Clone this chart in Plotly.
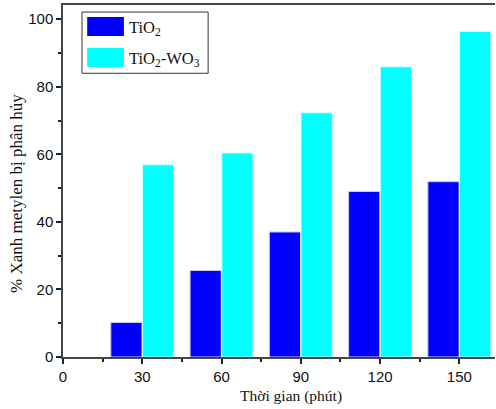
import plotly.graph_objects as go

times = [30, 60, 90, 120, 150]
tio2 = [10.2, 25.6, 37.0, 49.0, 51.9]
tio2_wo3 = [56.9, 60.4, 72.3, 85.9, 96.4]
x_ticks = [0, 30, 60, 90, 120, 150]
y_ticks = [0, 20, 40, 60, 80, 100]

BLUE = "#0000FF"
CYAN = "#00FFFF"
SERIF = "Liberation Serif, Times New Roman, serif"
SANS = "Liberation Sans, Arial, sans-serif"

fig = go.Figure()
fig.add_trace(go.Bar(x=times, y=tio2, width=11.8, offset=-11.9, name="TiO2",
                     marker=dict(color=BLUE, line=dict(color="#C8C8F0", width=1)),
                     showlegend=False))
fig.add_trace(go.Bar(x=times, y=tio2_wo3, width=11.8, offset=0.1, name="TiO2-WO3",
                     marker=dict(color=CYAN, line=dict(color="#D0FFFF", width=1)),
                     showlegend=False))

axis_common = dict(showgrid=False, zeroline=False, showline=True, linecolor="#444",
                   linewidth=1.5, ticks="outside", ticklen=5, tickwidth=1.5,
                   tickcolor="#222",
                   tickfont=dict(family=SANS, size=15, color="#111"))

fig.update_xaxes(range=[0, 163.5], tickvals=x_ticks, mirror=True, **axis_common,
                 minor=dict(ticks="outside", ticklen=3, tickwidth=1.5, tickcolor="#222", dtick=15, tick0=0))
fig.update_yaxes(range=[0, 104.2], tickvals=y_ticks, mirror=False, **axis_common,
                 minor=dict(ticks="outside", ticklen=3, tickwidth=1.5, tickcolor="#222", dtick=10, tick0=0))

# axis titles
fig.add_annotation(xref="paper", yref="paper", x=0.528, y=-0.111, xanchor="center", yanchor="middle",
                   text="Thời gian (phút)", showarrow=False,
                   font=dict(family=SERIF, size=15.5, color="#111"))
fig.add_annotation(xref="paper", yref="paper", x=-0.1065, y=0.466, xanchor="center", yanchor="middle",
                   text="% Xanh metylen bị phân hủy", showarrow=False, textangle=-90,
                   font=dict(family=SERIF, size=17, color="#111"))

# custom legend
fig.add_shape(type="rect", xref="paper", yref="paper", x0=0.044, x1=0.336, y0=0.806, y1=0.98,
              line=dict(color="#333", width=1), fillcolor="white")
fig.add_shape(type="rect", xref="paper", yref="paper", x0=0.056, x1=0.141, y0=0.912, y1=0.966,
              line=dict(width=0), fillcolor=BLUE)
fig.add_shape(type="rect", xref="paper", yref="paper", x0=0.056, x1=0.141, y0=0.824, y1=0.878,
              line=dict(width=0), fillcolor=CYAN)
fig.add_annotation(xref="paper", yref="paper", x=0.148, y=0.935, xanchor="left", yanchor="middle",
                   text="TiO<sub>2</sub>", showarrow=False,
                   font=dict(family=SERIF, size=16.5, color="#111"))
fig.add_annotation(xref="paper", yref="paper", x=0.148, y=0.848, xanchor="left", yanchor="middle",
                   text="TiO<sub>2</sub>-WO<sub>3</sub>", showarrow=False,
                   font=dict(family=SERIF, size=16.5, color="#111"))

fig.update_layout(width=496, height=409, margin=dict(l=63, r=1, t=5, b=52),
                  plot_bgcolor="white", paper_bgcolor="white", barmode="overlay",
                  showlegend=False)
fig.write_html("out.html")
